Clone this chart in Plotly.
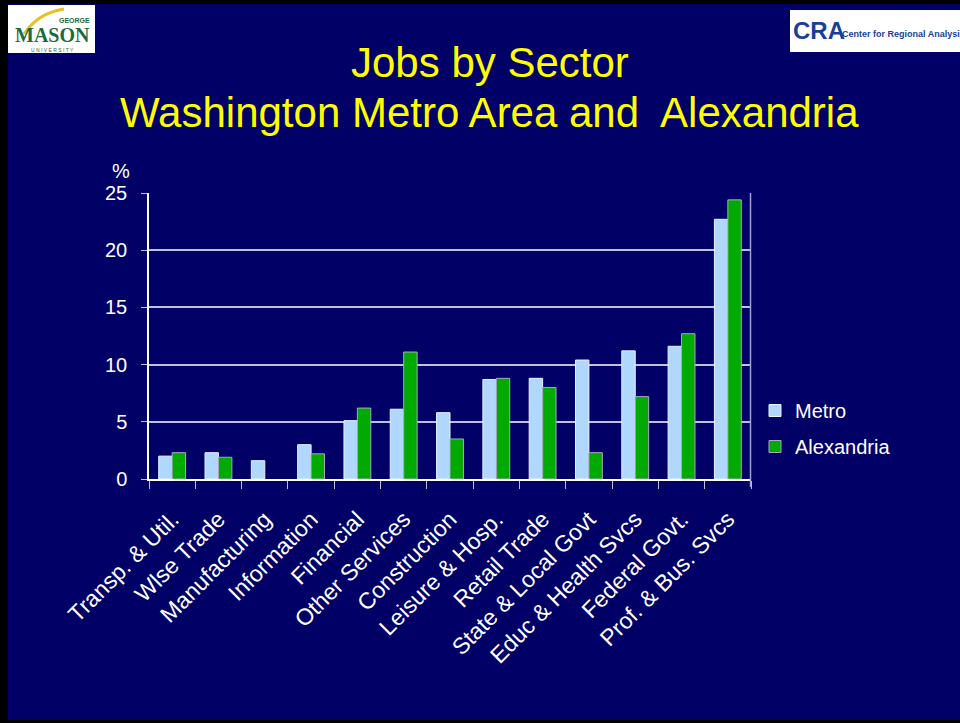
import plotly.graph_objects as go

categories = ["Transp. & Util.", "Wlse Trade", "Manufacturing", "Information", "Financial",
              "Other Services", "Construction", "Leisure & Hosp.", "Retail Trade",
              "State & Local Govt", "Educ & Health Svcs", "Federal Govt.", "Prof. & Bus. Svcs"]
metro = [2.0, 2.3, 1.6, 3.0, 5.1, 6.1, 5.8, 8.7, 8.8, 10.4, 11.2, 11.6, 22.7]
alexandria = [2.3, 1.9, 0.0, 2.2, 6.2, 11.1, 3.5, 8.8, 8.0, 2.3, 7.2, 12.7, 24.4]
y_ticks = [0, 5, 10, 15, 20, 25]

W, H = 960, 723
FONT = "Liberation Sans, Arial, sans-serif"
NAVY = "#000066"

def px(x):
    return x / W

def py(y):
    return 1 - y / H

def outline_widths(values):
    # no outline drawn for empty (zero) bars
    return [1 if v > 0 else 0 for v in values]

fig = go.Figure()
fig.add_trace(go.Bar(name="Metro", x=categories, y=metro, legendgroup="m",
                     marker=dict(color="#B0D8FF",
                                 line=dict(color="#E8F2FF", width=outline_widths(metro)))))
fig.add_trace(go.Bar(name="Alexandria", x=categories, y=alexandria, legendgroup="a",
                     marker=dict(color="#00AA00",
                                 line=dict(color="#A8A8C0", width=outline_widths(alexandria)))))

shapes = [
    # slide background
    dict(type="rect", xref="paper", yref="paper", x0=px(8), x1=px(962), y0=py(720), y1=py(4),
         fillcolor=NAVY, line=dict(width=0), layer="below"),
    # right border of plot area
    dict(type="line", xref="paper", yref="paper", x0=px(750.5), x1=px(750.5), y0=py(487), y1=py(193),
         line=dict(color="#A0A0C8", width=1.5)),
    # GMU logo box
    dict(type="rect", xref="paper", yref="paper", x0=px(8), x1=px(95), y0=py(53), y1=py(5),
         fillcolor="white", line=dict(width=0)),
    dict(type="path", xref="paper", yref="paper",
         path="M {} {} Q {} {} {} {}".format(px(24), py(34), px(38), py(13), px(64), py(9)),
         line=dict(color="#E8C020", width=3)),
    # CRA logo box
    dict(type="rect", xref="paper", yref="paper", x0=px(790), x1=px(962), y0=py(52), y1=py(10),
         fillcolor="white", line=dict(width=0)),
]

annotations = [
    dict(text="Jobs by Sector", x=px(490), y=py(62), xref="paper", yref="paper",
         showarrow=False, font=dict(family=FONT, size=42, color="#FFFF00"), xanchor="center", yanchor="middle"),
    dict(text="Washington Metro Area and  Alexandria", x=px(490), y=py(112), xref="paper", yref="paper",
         showarrow=False, font=dict(family=FONT, size=42, color="#FFFF00"), xanchor="center", yanchor="middle"),
    dict(text="%", x=px(121), y=py(171), xref="paper", yref="paper", showarrow=False,
         font=dict(family=FONT, size=20, color="white"), xanchor="center", yanchor="middle"),
    # GMU logo text
    dict(text="<b>GEORGE</b>", x=px(91), y=py(20), xref="paper", yref="paper", showarrow=False,
         font=dict(family=FONT, size=7, color="#1E6B3A"), xanchor="right", yanchor="middle", borderpad=0),
    dict(text="<b>MASON</b>", x=px(52), y=py(35), xref="paper", yref="paper", showarrow=False,
         font=dict(family="Liberation Serif, serif", size=20, color="#1E6B3A"), xanchor="center", yanchor="middle",
         borderpad=0),
    dict(text="U N I V E R S I T Y", x=px(52), y=py(50), xref="paper", yref="paper", showarrow=False,
         font=dict(family=FONT, size=5, color="#1E6B3A"), xanchor="center", yanchor="middle", borderpad=0),
    # CRA logo text
    dict(text="<b>CRA</b>", x=px(791), y=py(31), xref="paper", yref="paper", showarrow=False,
         font=dict(family=FONT, size=24, color="#1A3E9A"), xanchor="left", yanchor="middle"),
    dict(text="<b>Center for Regional Analysis</b>", x=px(841), y=py(34), xref="paper", yref="paper", showarrow=False,
         font=dict(family="Liberation Sans Narrow, " + FONT, size=9, color="#1A3E9A"), xanchor="left", yanchor="middle",
         borderpad=0),
]

fig.update_layout(
    width=W, height=H,
    margin=dict(l=0, r=0, t=0, b=0, autoexpand=False),
    paper_bgcolor="black",
    plot_bgcolor=NAVY,
    barmode="group",
    bargap=0.42,
    bargroupgap=0.0,
    font=dict(family=FONT, color="white"),
    shapes=shapes,
    annotations=annotations,
    legend=dict(x=px(755), y=py(391), xanchor="left", yanchor="top",
                font=dict(family=FONT, size=20, color="white"),
                bgcolor="rgba(0,0,0,0)", tracegroupgap=7),
    xaxis=dict(domain=[px(149), px(751)], tickangle=-45, tickson="boundaries",
               ticks="outside", ticklen=8, tickcolor="#C0C0D8", tickwidth=1,
               showline=True, linecolor="white", linewidth=1.5, automargin=False,
               ticklabelstandoff=16,
               tickfont=dict(family=FONT, size=23, color="white"),
               showgrid=False, fixedrange=True),
    yaxis=dict(domain=[py(479), py(193)], range=[0, 25], tickvals=y_ticks,
               ticks="outside", ticklen=6, tickcolor="#C0C0D8", automargin=False,
               ticklabelstandoff=10,
               showline=True, linecolor="white", linewidth=1.5,
               showgrid=True, gridcolor="#C0C0D8", gridwidth=1.5,
               tickfont=dict(family=FONT, size=20, color="white"),
               zeroline=False, fixedrange=True),
)

fig.write_html("out.html", config={"displayModeBar": False},
               post_script="document.body.style.margin='0';document.body.style.background='black';")
